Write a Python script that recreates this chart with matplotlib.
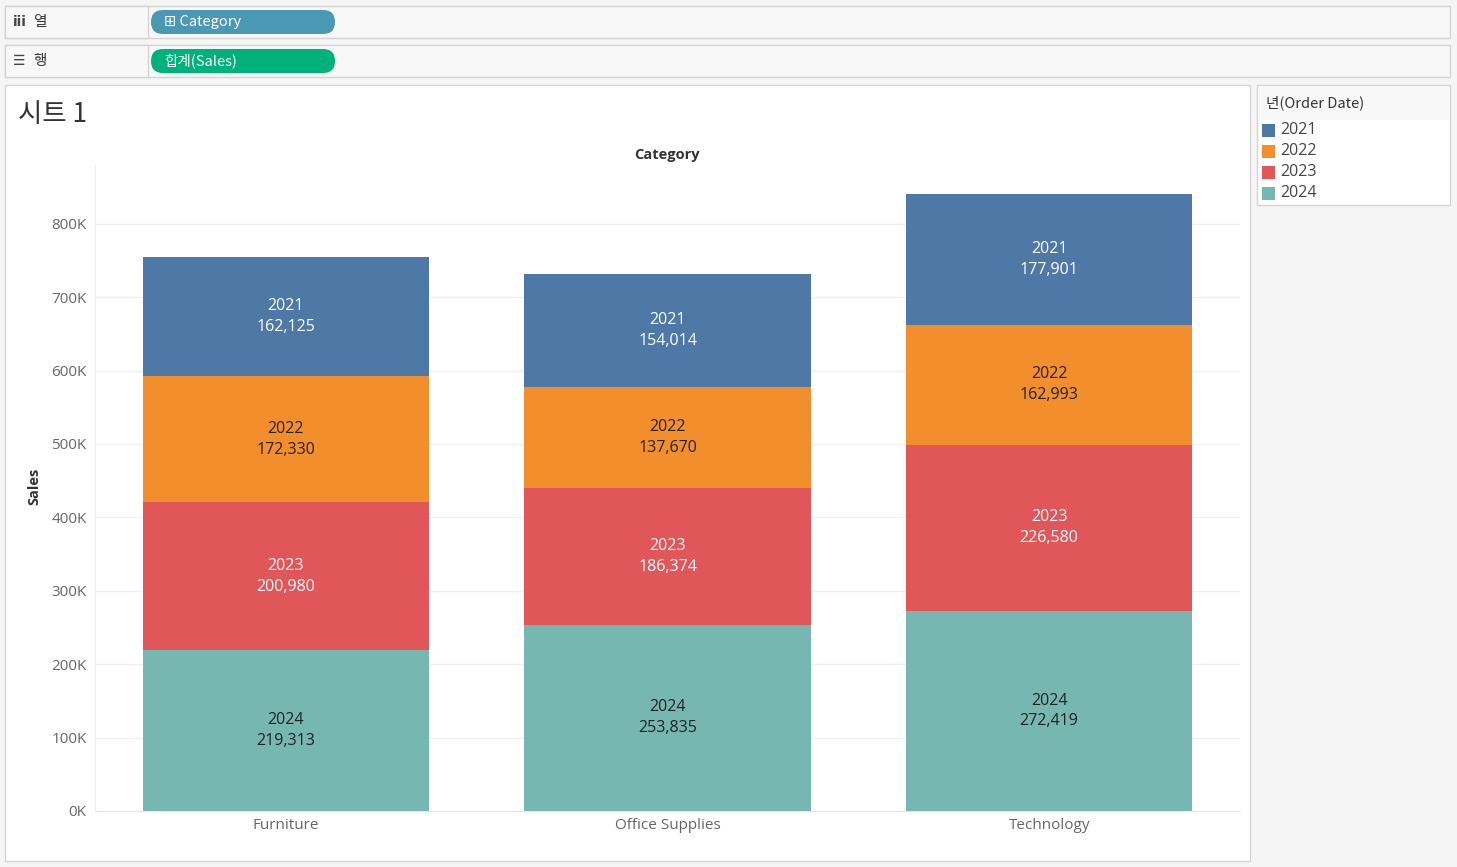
import matplotlib
matplotlib.use('Agg')
import matplotlib.pyplot as plt
from matplotlib.patches import Rectangle, FancyBboxPatch
import numpy as np

plt.rcParams['font.family'] = ['Open Sans', 'Noto Sans CJK KR', 'DejaVu Sans']

categories = ["Furniture", "Office Supplies", "Technology"]
years = ["2021", "2022", "2023", "2024"]
sales_2021 = [162125, 154014, 177901]
sales_2022 = [172330, 137670, 162993]
sales_2023 = [200980, 186374, 226580]
sales_2024 = [219313, 253835, 272419]
yticks = [0, 100000, 200000, 300000, 400000, 500000, 600000, 700000, 800000]
ytick_labels = ["0K", "100K", "200K", "300K", "400K", "500K", "600K", "700K", "800K"]

colors = {"2021": "#4e79a7", "2022": "#f28e2b", "2023": "#e15759", "2024": "#76b7b2"}
text_colors = {"2021": "white", "2022": "#222222", "2023": "white", "2024": "#222222"}

W, H = 1457, 867
fig = plt.figure(figsize=(W / 100, H / 100), dpi=100)
fig.patch.set_facecolor("#f5f5f5")

# background layer in pixel coordinates (top-left origin)
bg = fig.add_axes([0, 0, 1, 1], zorder=0)
bg.set_xlim(0, W)
bg.set_ylim(H, 0)
bg.axis("off")

KR = ['Noto Sans CJK KR', 'DejaVu Sans']


def rect(x, y, w, h, fc, ec, lw=1):
    bg.add_patch(Rectangle((x, y), w, h, facecolor=fc, edgecolor=ec, linewidth=lw))


def pill(x, y, w, h, color, label):
    bg.add_patch(FancyBboxPatch((x, y), w, h, boxstyle="round,pad=0,rounding_size=12",
                                facecolor=color, edgecolor="none"))
    bg.text(x + 13, y + h / 2, label, color="white", fontsize=10.5, va="center",
            ha="left", family=KR)


# shelves
for y0, icon, name in [(6, "iii", "열"), (45, "☰", "행")]:
    rect(5, y0, 1445, 32, "#f8f8f8", "#d4d4d4")
    rect(5, y0, 143, 32, "#f8f8f8", "#d4d4d4")
    bg.text(13, y0 + 16, icon, fontsize=10, color="#444444", va="center",
            family=['DejaVu Sans'], fontweight="bold")
    bg.text(33, y0 + 16, name, fontsize=10.5, color="#333333", va="center", family=KR)
pill(151, 10, 184, 24, "#4b98b5", "⊞ Category")
pill(151, 49, 184, 24, "#00b27a", "합계(Sales)")

# sheet area and legend
rect(5, 85, 1245, 776, "white", "#d4d4d4")
rect(1257, 85, 193, 120, "white", "#d4d4d4")
rect(1258, 86, 191, 34, "#f8f8f8", "none", lw=0)
bg.text(18, 114, "시트 1", fontsize=19, color="#333333", va="center", family=KR)
bg.text(1266, 103, "년(Order Date)", fontsize=10.5, color="#333333", va="center", family=KR)
for i, yr in enumerate(years):
    yy = 130 + i * 21
    rect(1262, yy - 6, 13, 13, colors[yr], "none", lw=0)
    bg.text(1280, yy, yr, fontsize=11.5, color="#444444", va="center")
bg.text(667, 155, "Category", fontsize=10.5, color="#333333", ha="center",
        va="center", fontweight="bold")
bg.text(34, 486, "Sales", fontsize=10.5, color="#333333", ha="center",
        va="center", rotation=90, fontweight="bold")

# chart
ax = fig.add_axes([95 / W, 1 - 811 / H, 1145 / W, 646 / H], zorder=1)
ax.set_facecolor("white")
x = np.arange(len(categories))
stack = [("2024", sales_2024), ("2023", sales_2023), ("2022", sales_2022), ("2021", sales_2021)]
bottom = np.zeros(len(categories))
for yr, vals in stack:
    vals = np.array(vals)
    ax.bar(x, vals, bottom=bottom, width=0.75, color=colors[yr], zorder=2)
    for xi, b, v in zip(x, bottom, vals):
        ax.text(xi, b + v / 2, f"{yr}\n{v:,}", ha="center", va="center",
                fontsize=11.5, color=text_colors[yr], linespacing=1.4, zorder=3)
    bottom += vals

ax.set_xlim(-0.5, 2.5)
ax.set_ylim(0, 880000)
ax.set_yticks(yticks)
ax.set_yticklabels(ytick_labels)
ax.set_xticks(x)
ax.set_xticklabels(categories)
ax.tick_params(axis="both", length=0, colors="#666666", labelsize=11)
ax.tick_params(axis="y", pad=6)
ax.tick_params(axis="x", pad=5)
ax.grid(axis="y", color="#f0f0f0", linewidth=1, zorder=0)
ax.set_axisbelow(True)
for s in ["top", "right"]:
    ax.spines[s].set_visible(False)
ax.spines["left"].set_color("#eeeeee")
ax.spines["bottom"].set_color("#e6e6e6")

plt.savefig("out.png", dpi=100, facecolor=fig.get_facecolor())
plt.close()
